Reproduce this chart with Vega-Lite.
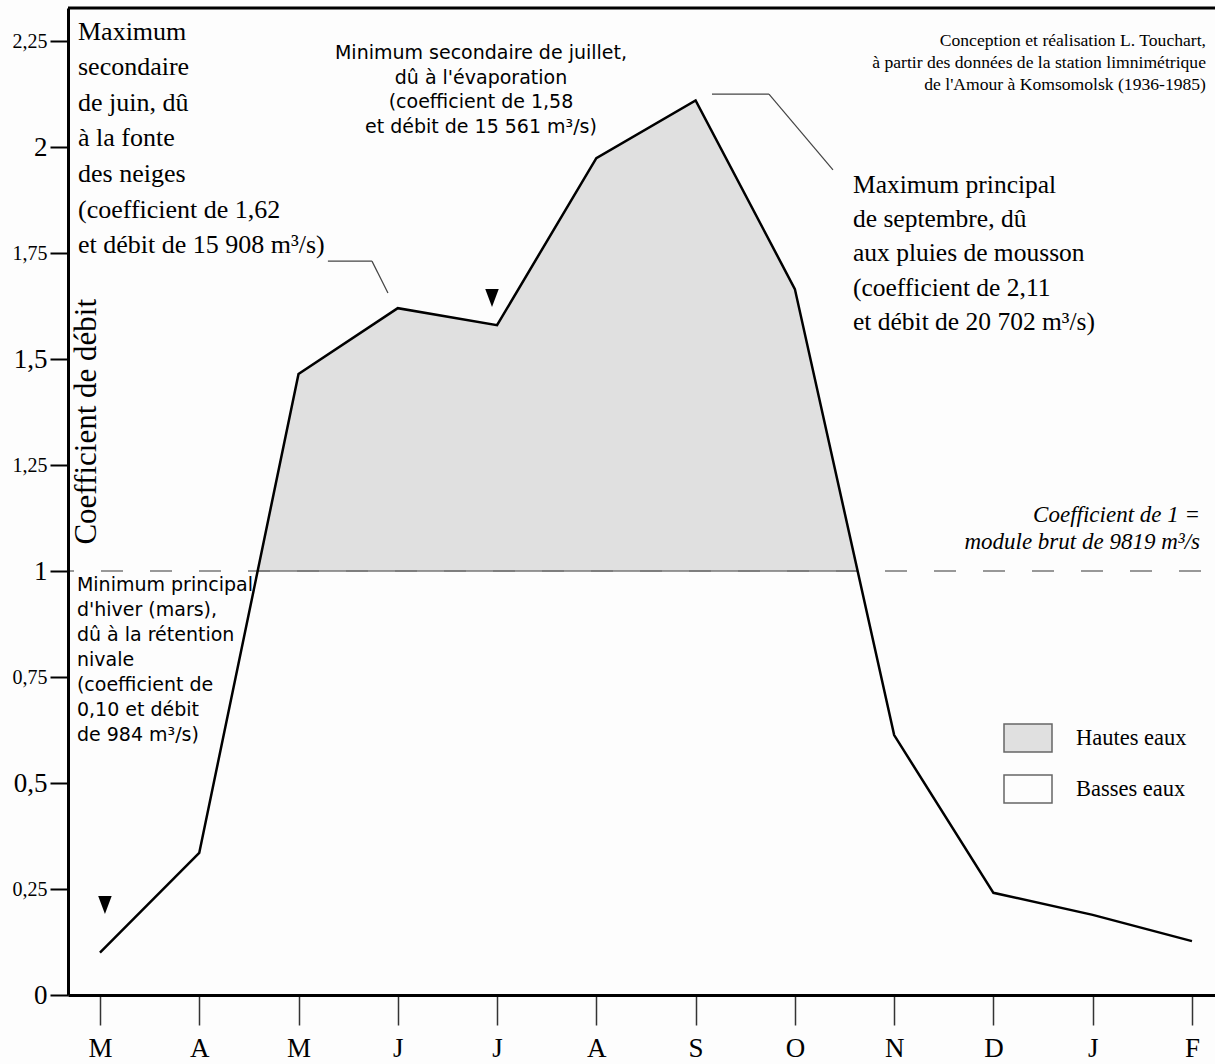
{
  "$schema": "https://vega.github.io/schema/vega-lite/v6.json",
  "width": 1147,
  "height": 987,
  "autosize": {"type": "none"},
  "padding": {"left": 68, "top": 8, "right": 0, "bottom": 69},
  "background": "#fdfdfd",
  "config": {"view": {"stroke": null}, "font": "Liberation Serif"},
  "datasets": {
    "debit": [
      {"mois": 0, "nom": "mars", "coef": 0.10},
      {"mois": 1, "nom": "avril", "coef": 0.335},
      {"mois": 2, "nom": "mai", "coef": 1.465},
      {"mois": 3, "nom": "juin", "coef": 1.62},
      {"mois": 4, "nom": "juillet", "coef": 1.58},
      {"mois": 5, "nom": "août", "coef": 1.974},
      {"mois": 6, "nom": "septembre", "coef": 2.11},
      {"mois": 7, "nom": "octobre", "coef": 1.665},
      {"mois": 8, "nom": "novembre", "coef": 0.613},
      {"mois": 9, "nom": "décembre", "coef": 0.241},
      {"mois": 10, "nom": "janvier", "coef": 0.189},
      {"mois": 11, "nom": "février", "coef": 0.127}
    ],
    "one": [{}]
  },
  "layer": [
    {
      "data": {"name": "debit"},
      "mark": {"type": "area", "interpolate": "linear"},
      "encoding": {
        "x": {"field": "mois", "type": "quantitative",
          "scale": {"domain": [-0.322, 11.232], "nice": false, "zero": false},
          "axis": {"title": null, "values": [0,1,2,3,4,5,6,7,8,9,10,11],
            "labelExpr": "['M','A','M','J','J','A','S','O','N','D','J','F'][datum.value]",
            "grid": false, "tickSize": 30, "tickWidth": 1.5, "tickColor": "#333",
            "domainColor": "#000", "domainWidth": 3, "labelFont": "Liberation Serif",
            "labelFontSize": 27, "labelColor": "#000", "labelPadding": 10, "zindex": 1}},
        "y": {"field": "coef", "type": "quantitative",
          "scale": {"domain": [0, 2.328], "nice": false, "zero": false},
          "axis": {"title": null, "values": [0,0.25,0.5,0.75,1,1.25,1.5,1.75,2,2.25],
            "labelExpr": "replace(toString(datum.value), '.', ',')",
            "grid": false, "tickSize": 18, "tickWidth": 2, "tickColor": "#000",
            "domainColor": "#000", "domainWidth": 3, "labelFont": "Liberation Serif",
            "labelFontSize": {"condition": {"test": "(datum.value * 4) % 2 == 1", "value": 20}, "value": 27},
            "labelColor": "#000", "labelPadding": 3, "zindex": 1}},
        "y2": {"datum": 0},
        "fill": {"datum": "Hautes eaux", "type": "nominal",
          "scale": {"domain": ["Hautes eaux", "Basses eaux"], "range": ["#e0e0e0", "#fdfdfd"]},
          "legend": {"orient": "none", "legendX": 935, "legendY": 705, "title": null,
            "symbolType": "M-1,-0.583H1V0.583H-1Z", "symbolSize": 2304,
            "symbolStrokeColor": "#666", "symbolStrokeWidth": 1.5, "symbolOpacity": 1,
            "labelFont": "Liberation Serif", "labelFontSize": 22.5, "labelColor": "#000",
            "labelOffset": 23, "rowPadding": 9, "padding": 0}}
      }
    },
    {
      "data": {"name": "one"},
      "mark": {"type": "rect"},
      "encoding": {
        "x": {"value": 0},
        "x2": {"value": "width"},
        "y": {"datum": 1},
        "y2": {"datum": 0},
        "fill": {"datum": "Basses eaux", "type": "nominal"}
      }
    },
    {
      "data": {"name": "one"},
      "mark": {"type": "rule", "stroke": "#777", "strokeWidth": 1.5, "strokeDash": [22, 27], "strokeDashOffset": 35},
      "encoding": {"y": {"datum": 1}}
    },
    {
      "data": {"name": "one"},
      "mark": {"type": "rule", "stroke": "#777", "strokeWidth": 1.5},
      "encoding": {"x": {"datum": 1.588}, "x2": {"datum": 7.632}, "y": {"datum": 1}}
    },
    {
      "data": {"name": "debit"},
      "mark": {"type": "line", "interpolate": "linear", "stroke": "#000", "strokeWidth": 2.5},
      "encoding": {
        "x": {"field": "mois", "type": "quantitative"},
        "y": {"field": "coef", "type": "quantitative"}
      }
    },
    {
      "data": {"name": "one"},
      "mark": {"type": "rule", "stroke": "#000", "strokeWidth": 3},
      "encoding": {"y": {"datum": 2.328}}
    },
    {
      "data": {"name": "one"},
      "mark": {"type": "rule", "stroke": "#444", "strokeWidth": 1.2},
      "encoding": {"x": {"datum": 2.296}, "x2": {"datum": 2.740}, "y": {"datum": 1.731}, "y2": {"datum": 1.731}}
    },
    {
      "data": {"name": "one"},
      "mark": {"type": "rule", "stroke": "#444", "strokeWidth": 1.2},
      "encoding": {"x": {"datum": 2.740}, "x2": {"datum": 2.901}, "y": {"datum": 1.731}, "y2": {"datum": 1.656}}
    },
    {
      "data": {"name": "one"},
      "mark": {"type": "rule", "stroke": "#444", "strokeWidth": 1.2},
      "encoding": {"x": {"datum": 6.165}, "x2": {"datum": 6.739}, "y": {"datum": 2.125}, "y2": {"datum": 2.125}}
    },
    {
      "data": {"name": "one"},
      "mark": {"type": "rule", "stroke": "#444", "strokeWidth": 1.2},
      "encoding": {"x": {"datum": 6.739}, "x2": {"datum": 7.384}, "y": {"datum": 2.125}, "y2": {"datum": 1.946}}
    },
    {
      "data": {"name": "one"},
      "mark": {"type": "point", "shape": "M-0.75,-1L0.75,-1L0,1Z", "size": 324, "filled": true, "color": "#000", "opacity": 1},
      "encoding": {"x": {"datum": 0.05}, "y": {"datum": 0.212}}
    },
    {
      "data": {"name": "one"},
      "mark": {"type": "point", "shape": "M-0.75,-1L0.75,-1L0,1Z", "size": 324, "filled": true, "color": "#000", "opacity": 1},
      "encoding": {"x": {"datum": 3.949}, "y": {"datum": 1.644}}
    },
    {
      "data": {"name": "one"},
      "mark": {"type": "text", "font": "Liberation Serif", "fontSize": 26, "lineHeight": 35.6, "align": "left", "baseline": "alphabetic", "color": "#000"},
      "encoding": {"x": {"datum": -0.2216}, "y": {"datum": 2.2535},
        "text": {"value": ["Maximum", "secondaire", "de juin, dû", "à la fonte", "des neiges", "(coefficient de 1,62", "et débit de 15 908 m³/s)"]}}
    },
    {
      "data": {"name": "one"},
      "mark": {"type": "text", "font": "DejaVu Sans", "fontSize": 19, "lineHeight": 24.8, "align": "center", "baseline": "alphabetic", "color": "#000"},
      "encoding": {"x": {"datum": 3.838}, "y": {"datum": 2.208},
        "text": {"value": ["Minimum secondaire de juillet,", "dû à l'évaporation", "(coefficient de 1,58", "et débit de 15 561 m³/s)"]}}
    },
    {
      "data": {"name": "one"},
      "mark": {"type": "text", "font": "DejaVu Sans", "fontSize": 19, "lineHeight": 25, "align": "left", "baseline": "alphabetic", "color": "#000"},
      "encoding": {"x": {"datum": -0.232}, "y": {"datum": 0.953},
        "text": {"value": ["Minimum principal", "d'hiver (mars),", "dû à la rétention", "nivale", "(coefficient  de", "0,10 et débit", "de 984 m³/s)"]}}
    },
    {
      "data": {"name": "one"},
      "mark": {"type": "text", "font": "Liberation Serif", "fontSize": 25.5, "lineHeight": 34.3, "align": "left", "baseline": "alphabetic", "color": "#000"},
      "encoding": {"x": {"datum": 7.585}, "y": {"datum": 1.892},
        "text": {"value": ["Maximum principal", "de septembre, dû", "aux pluies de mousson", "(coefficient de 2,11", "et débit de 20 702 m³/s)"]}}
    },
    {
      "data": {"name": "one"},
      "mark": {"type": "text", "font": "Liberation Serif", "fontSize": 17.6, "lineHeight": 22, "align": "right", "baseline": "alphabetic", "color": "#000"},
      "encoding": {"x": {"datum": 11.141}, "y": {"datum": 2.238},
        "text": {"value": ["Conception et réalisation L. Touchart,", "à partir des données de la station limnimétrique", "de l'Amour à Komsomolsk  (1936-1985)"]}}
    },
    {
      "data": {"name": "one"},
      "mark": {"type": "text", "font": "Liberation Serif", "fontStyle": "italic", "fontSize": 23, "lineHeight": 27, "align": "right", "baseline": "alphabetic", "color": "#000"},
      "encoding": {"x": {"datum": 11.081}, "y": {"datum": 1.115},
        "text": {"value": ["Coefficient de 1 =", "module brut de 9819 m³/s"]}}
    },
    {
      "data": {"name": "one"},
      "mark": {"type": "text", "font": "Liberation Serif", "fontSize": 31, "angle": 270, "align": "center", "baseline": "alphabetic", "color": "#000"},
      "encoding": {"x": {"datum": -0.04}, "y": {"datum": 1.352},
        "text": {"value": "Coefficient de débit"}}
    }
  ]
}
